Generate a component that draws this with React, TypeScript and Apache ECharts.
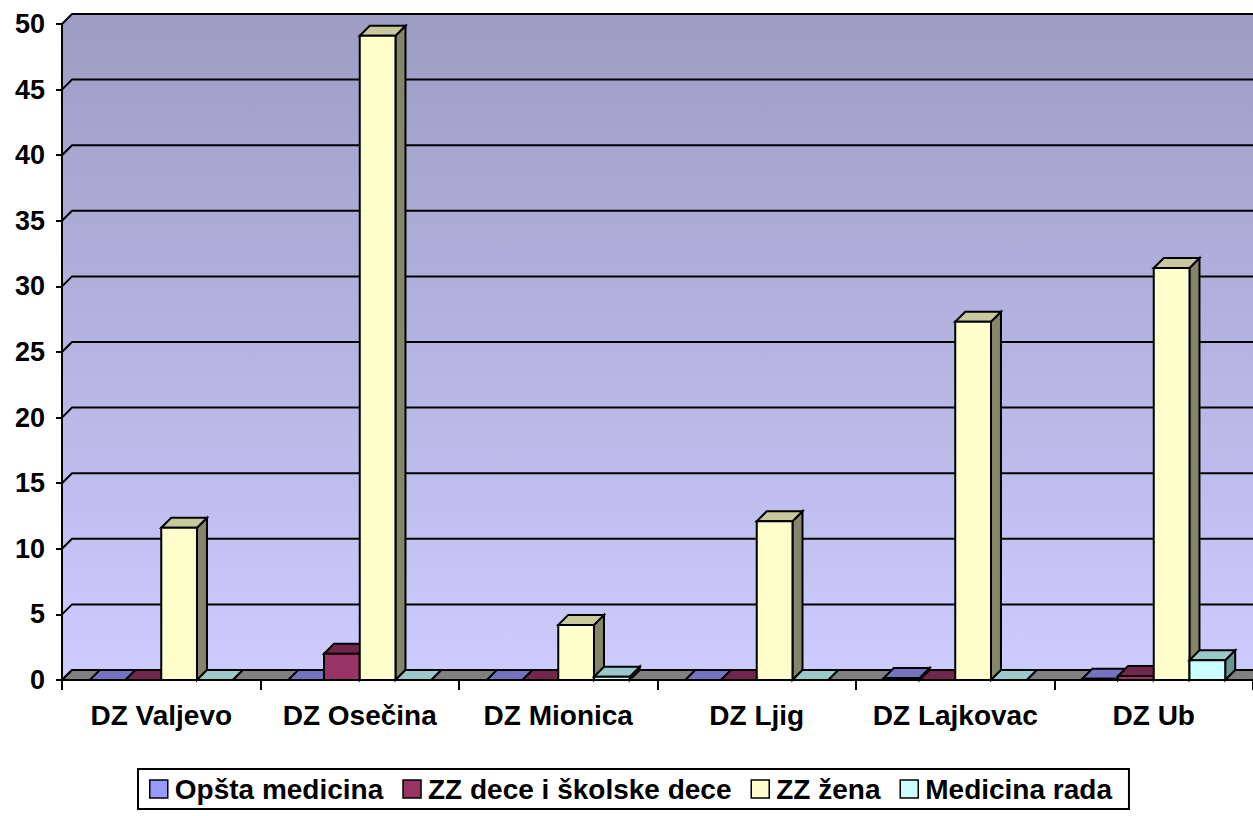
import React, { useEffect, useRef } from "react";
import * as echarts from "echarts";

const categories = ["DZ Valjevo", "DZ Osečina", "DZ Mionica", "DZ Ljig", "DZ Lajkovac", "DZ Ub"];
const yTicks = [0, 5, 10, 15, 20, 25, 30, 35, 40, 45, 50];
const opstaMedicina = [0, 0, 0, 0, 0.15, 0.1];
const zzDece = [0, 2.0, 0, 0, 0, 0.3];
const zzZena = [11.6, 49.1, 4.2, 12.1, 27.3, 31.4];
const medicinaRada = [0, 0, 0.25, 0, 0, 1.5];

const seriesNames = ["Opšta medicina", "ZZ dece i školske dece", "ZZ žena", "Medicina rada"];
const seriesValues = [opstaMedicina, zzDece, zzZena, medicinaRada];
const frontColors = ["#9999FF", "#993366", "#FFFFCC", "#CCFFFF"];
const topColors = ["#7373C0", "#73264D", "#C8C89E", "#99C9C9"];
const sideColors = ["#5C5C99", "#5C1F3D", "#85856A", "#6A9592"];

const DX = 10;
const DY = -10;
const FONT = "'Liberation Sans', Arial, sans-serif";

export default function App() {
  const ref = useRef<HTMLDivElement>(null);
  useEffect(() => {
    if (!ref.current) return;
    const chart = echarts.init(ref.current, undefined, { renderer: "svg" });

    const wallSeries: any = {
      type: "custom",
      name: "wall",
      silent: true,
      z: 1,
      data: yTicks.map((v) => [0, v]),
      renderItem: (params: any, api: any) => {
        const cs = params.coordSys;
        const v = api.value(1);
        const y = api.coord([0, v])[1];
        const left = cs.x;
        const right = cs.x + cs.width;
        const bottom = cs.y + cs.height;
        const children: any[] = [];
        if (params.dataIndex === 0) {
          children.push({
            type: "polygon",
            shape: {
              points: [
                [left, bottom],
                [left, cs.y],
                [left + DX, cs.y + DY],
                [right + DX, cs.y + DY],
                [right + DX, bottom + DY],
                [right, bottom],
              ],
            },
            style: {
              fill: new echarts.graphic.LinearGradient(0, 0, 0, 1, [
                { offset: 0, color: "#9C9CC4" },
                { offset: 1, color: "#CCCCFF" },
              ]),
              stroke: "none",
            },
          });
          children.push({
            type: "polygon",
            shape: {
              points: [
                [left, bottom],
                [left + DX, bottom + DY],
                [right + DX, bottom + DY],
                [right, bottom],
              ],
            },
            style: { fill: "#808080", stroke: "#000", lineWidth: 2 },
          });
        }
        children.push({
          type: "polyline",
          shape: {
            points: [
              [left, y],
              [left + DX, y + DY],
              [right + DX, y + DY],
            ],
          },
          style: { fill: "none", stroke: "#000", lineWidth: 2 },
        });
        return { type: "group", children };
      },
    };

    const barSeries = seriesNames.map((name, s) => ({
      type: "custom",
      name,
      z: 2,
      itemStyle: { color: frontColors[s], borderColor: "#000", borderWidth: 2 },
      data: seriesValues[s].map((v, i) => [i, v]),
      renderItem: (params: any, api: any) => {
        const idx = api.value(0);
        const val = api.value(1);
        const [cx, yTop] = api.coord([idx, val]);
        const y0 = api.coord([idx, 0])[1];
        const band = api.size([1, 0])[0];
        const groupW = band * 0.72;
        const bw = groupW / 4;
        const x0 = cx - groupW / 2 + s * bw;
        const x1 = x0 + bw;
        const st = { stroke: "#000", lineWidth: 2, lineJoin: "miter" };
        return {
          type: "group",
          children: [
            {
              type: "polygon",
              shape: { points: [[x1, yTop], [x1 + DX, yTop + DY], [x1 + DX, y0 + DY], [x1, y0]] },
              style: { ...st, fill: sideColors[s] },
            },
            {
              type: "polygon",
              shape: { points: [[x0, yTop], [x0 + DX, yTop + DY], [x1 + DX, yTop + DY], [x1, yTop]] },
              style: { ...st, fill: topColors[s] },
            },
            {
              type: "rect",
              shape: { x: x0, y: yTop, width: bw, height: Math.max(0, y0 - yTop) },
              style: { ...st, fill: frontColors[s] },
            },
          ],
        };
      },
    }));

    chart.setOption({
      animation: false,
      backgroundColor: "#ffffff",
      grid: { left: 62, top: 24, right: -3, bottom: 136, containLabel: false },
      legend: {
        data: seriesNames,
        left: 138,
        top: 769,
        orient: "horizontal",
        icon: "rect",
        itemWidth: 18,
        itemHeight: 18,
        itemGap: 19,
        padding: [6, 17, 6, 11],
        borderColor: "#000",
        borderWidth: 2,
        itemStyle: { borderColor: "#000", borderWidth: 1.5 },
        textStyle: { fontFamily: FONT, fontSize: 28, fontWeight: "bold", color: "#000", padding: [0, 0, 0, 2] },
      },
      xAxis: {
        type: "category",
        data: categories,
        z: 10,
        axisLine: { lineStyle: { color: "#000", width: 2 } },
        axisTick: { show: true, length: 10, lineStyle: { color: "#000", width: 2 } },
        axisLabel: { margin: 21, fontFamily: FONT, fontSize: 28, fontWeight: "bold", color: "#000", interval: 0 },
        splitLine: { show: false },
      },
      yAxis: {
        type: "value",
        min: 0,
        max: 50,
        interval: 5,
        z: 10,
        axisLine: { show: true, lineStyle: { color: "#000", width: 2 } },
        axisTick: { show: true, length: 6, lineStyle: { color: "#000", width: 2 } },
        axisLabel: { margin: 17, fontFamily: FONT, fontSize: 27, fontWeight: "bold", color: "#000" },
        splitLine: { show: false },
      },
      series: [wallSeries, ...barSeries],
    });
    return () => chart.dispose();
  }, []);
  return (
    <div
      ref={ref}
      style={{ position: "fixed", left: 0, top: 0, width: 1253, height: 816 }}
    />
  );
}
